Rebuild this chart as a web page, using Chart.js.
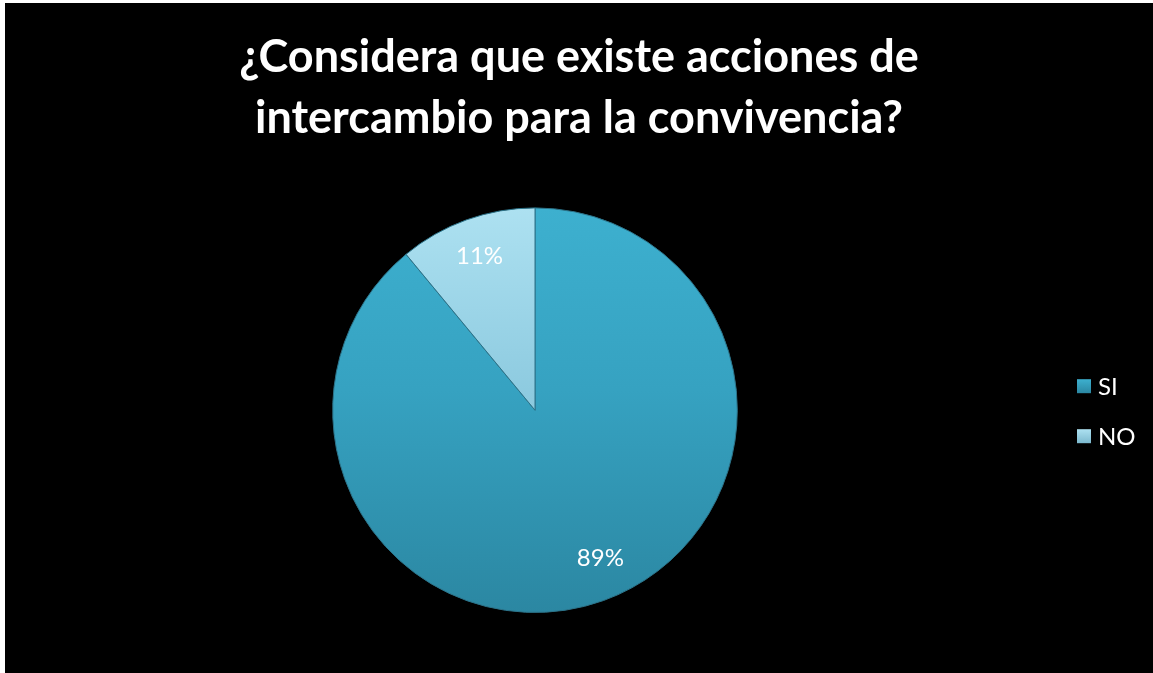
<!DOCTYPE html>
<html lang="es">
<head>
<meta charset="utf-8">
<title>Acciones de intercambio para la convivencia</title>
<script src="https://cdn.jsdelivr.net/npm/chart.js@4.4.1/dist/chart.umd.min.js"></script>
<style>
  html, body { margin: 0; padding: 0; background: #ffffff; }
  #wrap { position: absolute; left: 5px; top: 3px; width: 1148px; height: 670px; background: #000000; }
</style>
</head>
<body>
<div id="wrap"><canvas id="pieChart"></canvas></div>
<script>
const categories = ['SI', 'NO'];
const porcentajes = [89, 11];
const tituloLineas = ['¿Considera que existe acciones de', 'intercambio para la convivencia?'];

const ANCHO_LEYENDA = 88;

// colores con degradado vertical para dar algo de relieve
const tonos = [
    { top: '#3db0cf', mid: '#36a2c1', bottom: '#2b87a2' },
    { top: '#ade1f1', mid: '#8ecbe0', bottom: '#7cb9ce' }
];

function sliceFill(context) {
    const chart = context.chart;
    const area = chart.chartArea;
    const t = tonos[context.dataIndex % tonos.length];
    if (!area) return t.mid;
    const g = chart.ctx.createLinearGradient(0, area.top, 0, area.bottom);
    g.addColorStop(0, t.top);
    g.addColorStop(0.45, t.mid);
    g.addColorStop(1, t.bottom);
    return g;
}

// etiquetas de porcentaje dentro de cada sector
const etiquetasPlugin = {
    id: 'etiquetas',
    afterDatasetsDraw(chart) {
        const ctx = chart.ctx;
        const meta = chart.getDatasetMeta(0);
        ctx.save();
        ctx.fillStyle = '#ffffff';
        ctx.font = '24px Lato';
        ctx.textAlign = 'center';
        ctx.textBaseline = 'middle';
        meta.data.forEach(function(arc, i) {
            const p = arc.getProps(['x', 'y', 'startAngle', 'endAngle', 'outerRadius'], true);
            const mid = (p.startAngle + p.endAngle) / 2 - (i === 0 ? 0.07 : 0);
            const r = p.outerRadius * (i === 0 ? 0.8 : 0.81);
            ctx.fillText(porcentajes[i] + '%', p.x + Math.cos(mid) * r, p.y + Math.sin(mid) * r);
        });
        ctx.restore();
    }
};

// leyenda a la derecha; el área del gráfico se recorta para dejarle sitio
// sin mover el título, que sigue centrado en todo el lienzo
const leyendaPlugin = {
    id: 'leyenda',
    afterLayout(chart) {
        chart.chartArea.right -= ANCHO_LEYENDA;
        chart.chartArea.width -= ANCHO_LEYENDA;
    },
    afterDraw(chart) {
        const ctx = chart.ctx;
        const area = chart.chartArea;
        const cy = (area.top + area.bottom) / 2;
        const x = chart.width - 76;
        ctx.save();
        ctx.font = '24px Lato';
        ctx.textBaseline = 'middle';
        ctx.textAlign = 'left';
        categories.forEach(function(cat, i) {
            const y = cy - 24 + i * 50;
            const t = tonos[i];
            const g = ctx.createLinearGradient(0, y - 7, 0, y + 7);
            g.addColorStop(0, t.top);
            g.addColorStop(1, t.bottom);
            ctx.fillStyle = g;
            ctx.fillRect(x, y - 7, 14, 14);
            ctx.fillStyle = '#ffffff';
            ctx.fillText(cat, x + 21, y + 1);
        });
        ctx.restore();
    }
};

const ctx = document.getElementById('pieChart').getContext('2d');
new Chart(ctx, {
    type: 'pie',
    data: {
        labels: categories,
        datasets: [{
            data: porcentajes,
            backgroundColor: sliceFill,
            borderColor: '#2c7389',
            borderWidth: 1
        }]
    },
    options: {
        responsive: true,
        maintainAspectRatio: false,
        animation: false,
        layout: { padding: { bottom: 60 } },
        plugins: {
            title: {
                display: true,
                text: tituloLineas,
                color: '#ffffff',
                font: { family: 'Lato', size: 45, weight: 'bold', lineHeight: 1.36 },
                padding: { top: 24, bottom: 58 }
            },
            legend: { display: false },
            tooltip: { enabled: false }
        }
    },
    plugins: [etiquetasPlugin, leyendaPlugin]
});
</script>
</body>
</html>
